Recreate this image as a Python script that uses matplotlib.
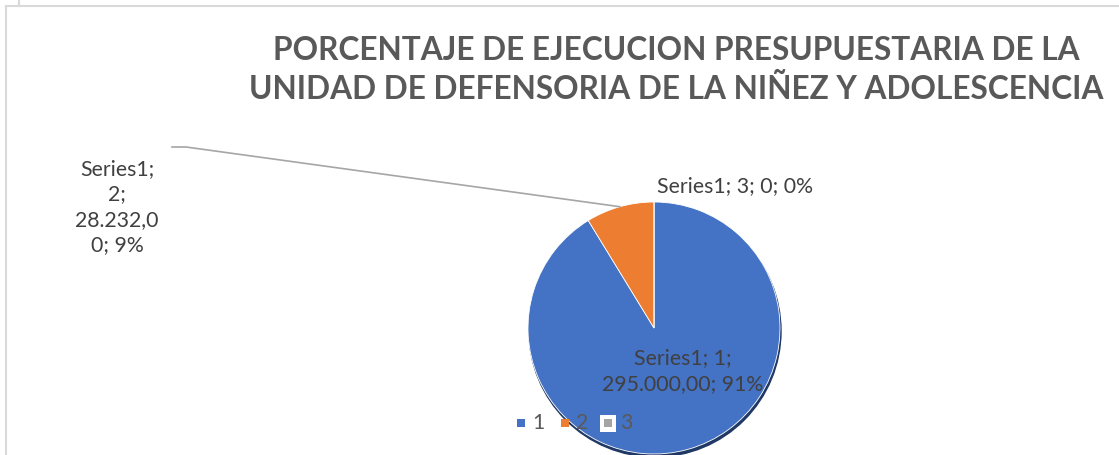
import matplotlib.pyplot as plt
from matplotlib.patches import Ellipse, Rectangle
import numpy as np

# data
categories = ['1', '2', '3']
values = [295000.00, 28232.00, 0.0]
percents = ['91%', '9%', '0%']
value_text = ['295.000,00', '28.232,00', '0']
colors = ['#4472C4', '#ED7D31', '#A5A5A5']
title = 'PORCENTAJE DE EJECUCION PRESUPUESTARIA DE LA\nUNIDAD DE DEFENSORIA DE LA NIÑEZ Y ADOLESCENCIA'

W, H = 1119, 455
plt.rcParams['font.family'] = ['Lato', 'DejaVu Sans']
fig = plt.figure(figsize=(W / 100, H / 100), dpi=100)
ax = fig.add_axes([0, 0, 1, 1])

# chart frame (light gray)
ax.plot([19, 19], [H, H - 6], color='#D9D9D9', lw=1.5)
ax.plot([6, W], [H - 6, H - 6], color='#D9D9D9', lw=1.5)
ax.plot([6, 6], [H - 6, 0], color='#D9D9D9', lw=1.5)

cx, cy, r = 654, H - 328, 126
# soft shadow under the pie
ax.add_patch(Ellipse((cx + 1, cy - 3), 2 * r, 2 * r, color='#1F3864', zorder=1))
wedges, _ = ax.pie(values, colors=colors, startangle=90, counterclock=False,
                   center=(cx, cy), radius=r, frame=True,
                   wedgeprops=dict(edgecolor='white', linewidth=0.6, zorder=2))
ax.set_aspect('auto')
ax.set_xlim(0, W)
ax.set_ylim(0, H)
ax.axis('off')

lab_col = '#404040'
fs = 15.3

# label 1 inside the blue slice
ax.text(683, H - 371, f'Series1; {categories[0]};\n{value_text[0]}; {percents[0]}',
        ha='center', va='center', fontsize=fs, color=lab_col, linespacing=1.42, zorder=5)

# label 2 with leader line to the orange slice
w2 = wedges[1]
mid = np.deg2rad((w2.theta1 + w2.theta2) / 2)
px, py = cx + r * np.cos(mid), cy + r * np.sin(mid)
ax.plot([172, 186, px], [H - 147, H - 147, py], color='#A6A6A6', lw=1.2, zorder=4)
ax.text(117, H - 207, f'Series1;\n{categories[1]};\n28.232,0\n0; {percents[1]}',
        ha='center', va='center', fontsize=fs, color=lab_col, linespacing=1.33)

# label 3 (zero slice)
ax.text(735, H - 186, f'Series1; {categories[2]}; {value_text[2]}; {percents[2]}',
        ha='center', va='center', fontsize=fs, color=lab_col)

# title
ax.text(676, H - 70, title, ha='center', va='center', fontsize=22.8, fontweight='bold',
        color='#595959', linespacing=1.38)

# legend drawn over the pie
lx = [521, 565, 608]
tx = [532, 576, 620]
ly = H - 423
ax.add_patch(Rectangle((lx[2] - 8, ly - 9), 16, 17, facecolor='white', edgecolor='none', zorder=5))
for i in range(3):
    ax.add_patch(Rectangle((lx[i] - 4, ly - 4), 8, 8, facecolor=colors[i], edgecolor='none', zorder=6))
    ax.text(tx[i], ly, categories[i], ha='left', va='center', fontsize=fs,
            color='#595959', zorder=6)

fig.savefig('out.png', dpi=100)
